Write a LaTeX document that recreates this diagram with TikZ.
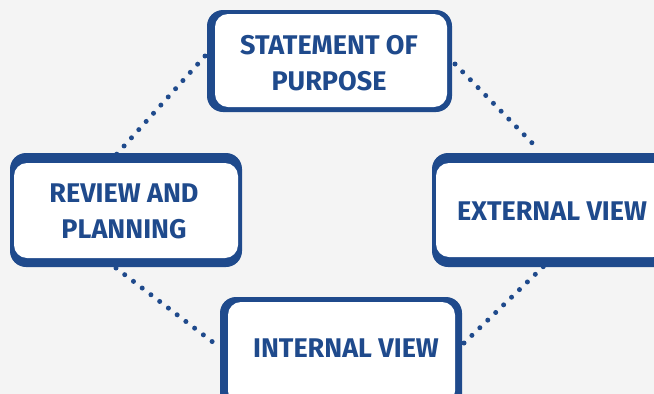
\documentclass[tikz,border=0pt]{standalone}
\usepackage{fontspec}
\setmainfont{Fira Sans}
\definecolor{navy}{HTML}{1F4A8C}
\definecolor{bg}{HTML}{F4F4F4}
\begin{document}
\begin{tikzpicture}[x=1pt,y=-1pt,
  lbl/.style={font=\bfseries\fontsize{27}{36}\selectfont, text=navy, align=center, inner sep=0pt},
  dotline/.style={navy, line width=5pt, line cap=round, dash pattern=on 0pt off 11pt}]
\fill[bg] (0,0) rectangle (654,394);
\useasboundingbox (0,0) rectangle (654,394);
% top box
\fill[navy, rounded corners=16pt] (207,10) rectangle (452,112);
\fill[white, rounded corners=13pt] (215,14) rectangle (447,107);
% left box
\fill[navy, rounded corners=16pt] (10,153) rectangle (242,267);
\fill[white, rounded corners=13pt] (14,163) rectangle (238,258);
% right box
\fill[navy, rounded corners=16pt] (432,153) rectangle (672,267);
\fill[white, rounded corners=13pt] (436,163) rectangle (666,257);
% bottom box
\fill[navy, rounded corners=16pt] (220,297) rectangle (462,410);
\fill[white, rounded corners=13pt] (228,302) rectangle (455,404);
% labels
\node[lbl] (sop) at (329,63) {STATEMENT OF\\PURPOSE};
\node[lbl] (rap) at (124,211) {REVIEW AND\\PLANNING};
\node[lbl] (ext) at (552,211) {EXTERNAL VIEW};
\node[lbl] (int) at (346,348) {INTERNAL VIEW};
% dotted connectors
\coordinate (a1) at (205,56); \coordinate (a2) at (116,155);
\coordinate (b1) at (455,64); \coordinate (b2) at (539,150);
\coordinate (c1) at (116,268); \coordinate (c2) at (214,343);
\coordinate (d1) at (464,343); \coordinate (d2) at (545,265);
\draw[dotline] (a1) -- (a2);
\draw[dotline] (b1) -- (b2);
\draw[dotline] (c1) -- (c2);
\draw[dotline] (d1) -- (d2);
\end{tikzpicture}
\end{document}
